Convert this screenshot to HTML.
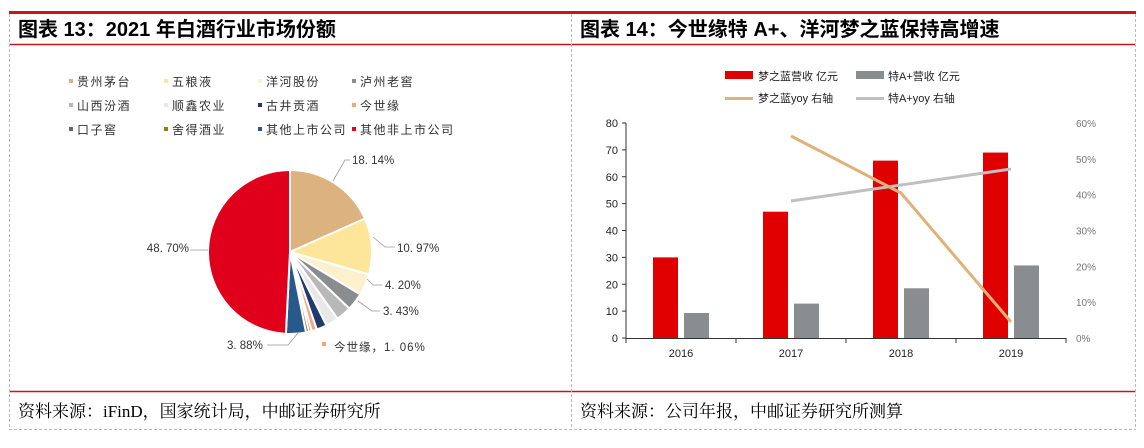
<!DOCTYPE html>
<html><head><meta charset="utf-8"><style>
body{margin:0;background:#fff;width:1144px;height:443px;overflow:hidden;font-family:"Liberation Sans","Noto Sans CJK SC",sans-serif}
svg text{font-family:"Liberation Sans","Noto Sans CJK SC",sans-serif}
</style></head><body>
<svg width="1144" height="443" xmlns="http://www.w3.org/2000/svg" id="s">
<rect x="9" y="11" width="1127" height="3" fill="#c8161d"/>
<line x1="9" y1="44.5" x2="1136" y2="44.5" stroke="#c8161d" stroke-width="1.5"/>
<line x1="9" y1="391.5" x2="1136" y2="391.5" stroke="#c8161d" stroke-width="1.5"/>
<g stroke="#bbb" stroke-dasharray="3,2" fill="none">
<line x1="9.5" y1="14" x2="9.5" y2="429"/>
<line x1="571.5" y1="14" x2="571.5" y2="429"/>
<line x1="1135.5" y1="14" x2="1135.5" y2="429"/>
<line x1="9" y1="429.5" x2="1136" y2="429.5"/>
</g>
<text x="18" y="36" font-size="20" font-weight="bold">图表 13：2021 年白酒行业市场份额</text>
<text x="580" y="36" font-size="20" font-weight="bold">图表 14：今世缘特 A+、洋河梦之蓝保持高增速</text>
<text x="18" y="417" font-size="17" style="font-family:'Liberation Serif','Noto Serif CJK SC',serif">资料来源：iFinD，国家统计局，中邮证券研究所</text>
<text x="580" y="417" font-size="17" style="font-family:'Liberation Serif','Noto Serif CJK SC',serif">资料来源：公司年报，中邮证券研究所测算</text>
<g font-size="12" fill="#333" id="leg" letter-spacing="1.5"></g>
<g id="pie"></g>
<g font-size="11.5" fill="#333">
<text x="352" y="164">18. 14%</text>
<text x="397" y="252">10. 97%</text>
<text x="385" y="289">4. 20%</text>
<text x="383" y="315">3. 43%</text>
<text x="227" y="349">3. 88%</text>
<text x="189" y="252" text-anchor="end">48. 70%</text>
<rect x="322" y="342" width="4" height="4" fill="#f4a582"/>
<text x="334" y="351" letter-spacing="1">今世缘，1. 06%</text>
</g>
<g stroke="#999" fill="none" stroke-width="0.8">
<polyline points="333,181 345,160 350,160"/>
<polyline points="373,237 385,247 395,247"/>
<polyline points="367,279 373,285 382,285"/>
<polyline points="358,301 372,311 380,311"/>
<polyline points="298,333 288,345 267,345"/>
<polyline points="190,250 208,250"/>
</g>
<g font-size="11" fill="#222">
<rect x="725" y="71" width="28" height="8" fill="#e00000"/><text x="758" y="80">梦之蓝营收 亿元</text>
<rect x="856" y="71" width="28" height="8" fill="#8a8d90"/><text x="888" y="80">特A+营收 亿元</text>
<rect x="725" y="97" width="28" height="3" fill="#deb27a"/><text x="758" y="102">梦之蓝yoy 右轴</text>
<rect x="856" y="97" width="28" height="3" fill="#c0c0c0"/><text x="888" y="102">特A+yoy 右轴</text>
</g>
<g id="bars"></g>
<polyline points="791,201 1011,169" stroke="#c0c0c0" stroke-width="3" fill="none"/>
<polyline points="791,136 901,193 1011,322" stroke="#deb27a" stroke-width="3" fill="none"/>
</svg>
<script>
var NS="http://www.w3.org/2000/svg";
function el(p,t,a,txt){var e=document.createElementNS(NS,t);for(var k in a)e.setAttribute(k,a[k]);if(txt)e.textContent=txt;p.appendChild(e);return e;}
var leg=document.getElementById('leg');
var items=[["贵州茅台","#dcb37e"],["五粮液","#fde59a"],["洋河股份","#fdf0cc"],["泸州老窖","#8a8d90"],["山西汾酒","#b8b8b8"],["顺鑫农业","#e8e8e8"],["古井贡酒","#1f3a6e"],["今世缘","#f4a582"],["口子窖","#666"],["舍得酒业","#a07a10"],["其他上市公司","#27598a"],["其他非上市公司","#e0001b"]];
var cols=[69,164,258,352],rows=[86,110,134];
items.forEach(function(it,i){var x=cols[i%4],y=rows[Math.floor(i/4)];el(leg,'rect',{x:x,y:y-7,width:4,height:4,fill:it[1]});el(leg,'text',{x:x+8,y:y},it[0]);});
var vals=[18.14,10.97,4.2,3.43,3.0,2.5,2.0,1.06,0.5,0.6,3.88,48.7];
var tot=vals.reduce(function(a,b){return a+b},0);
var cx=290,cy=252,r=82,a=0,pie=document.getElementById('pie');
vals.forEach(function(v,i){var a2=a+v/tot*2*Math.PI;
var x1=cx+r*Math.sin(a),y1=cy-r*Math.cos(a),x2=cx+r*Math.sin(a2),y2=cy-r*Math.cos(a2);
el(pie,'path',{d:'M'+cx+','+cy+' L'+x1+','+y1+' A'+r+','+r+' 0 '+((a2-a)>Math.PI?1:0)+' 1 '+x2+','+y2+' Z',fill:items[i][1],stroke:'#fff','stroke-width':2});a=a2;});
var b=document.getElementById('bars');
var y0=338,k=215/80;
el(b,'line',{x1:626,y1:123,x2:626,y2:338,stroke:'#333'});
el(b,'line',{x1:626,y1:338.5,x2:1066,y2:338.5,stroke:'#333'});
for(var i=0;i<=8;i++){var y=y0-i*10*k;el(b,'line',{x1:622,y1:y,x2:626,y2:y,stroke:'#333'});
el(b,'text',{x:618,y:y+4,'text-anchor':'end','font-size':11,fill:'#222'},String(i*10));}
for(var i=0;i<=6;i++){var y=y0-i*215/6;el(b,'text',{x:1076,y:y+4,'font-size':10,fill:'#777'},(i*10)+'%');}
var red=[30,47,66,69],gr=[9.3,12.8,18.5,27],yr=['2016','2017','2018','2019'];
for(var i=0;i<4;i++){var x=626+i*110;
el(b,'line',{x1:x,y1:338,x2:x,y2:343,stroke:'#333'});
el(b,'rect',{x:x+27,y:y0-red[i]*k,width:25,height:red[i]*k,fill:'#e00000'});
el(b,'rect',{x:x+58,y:y0-gr[i]*k,width:25,height:gr[i]*k,fill:'#8a8d90'});
el(b,'text',{x:x+55,y:357,'text-anchor':'middle','font-size':11,fill:'#222'},yr[i]);}
el(b,'line',{x1:1066,y1:338,x2:1066,y2:343,stroke:'#333'});
</script>
</body></html>
